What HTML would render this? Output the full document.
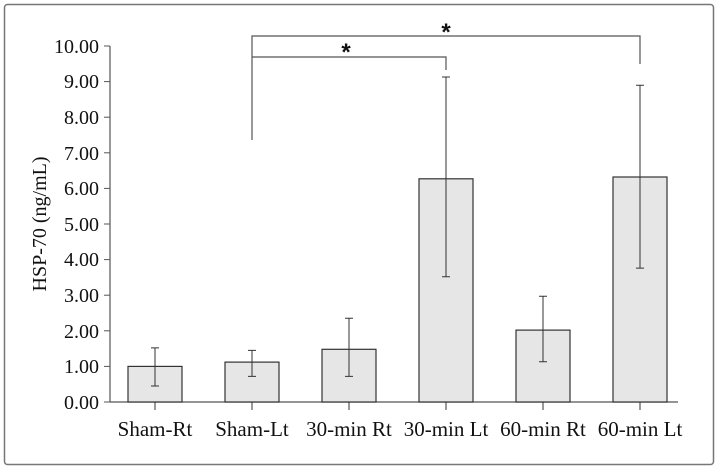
<!DOCTYPE html>
<html><head><style>body{margin:0;background:#fff}</style></head><body>
<svg width="718" height="469" xmlns="http://www.w3.org/2000/svg" font-family="Liberation Serif, serif">
<rect x="4.5" y="4.5" width="709" height="460" rx="3" fill="#fff" stroke="#777" stroke-width="1.5"/>
<g stroke="#555" stroke-width="1.2" fill="none">
<line x1="110" y1="46" x2="110" y2="402"/>
<line x1="110" y1="402" x2="678" y2="402"/>
</g>
<g font-size="20" fill="#111" text-anchor="end">
<text x="99" y="53">10.00</text><text x="99" y="88">9.00</text><text x="99" y="124">8.00</text>
<text x="99" y="160">7.00</text><text x="99" y="195">6.00</text><text x="99" y="231">5.00</text>
<text x="99" y="266">4.00</text><text x="99" y="302">3.00</text><text x="99" y="338">2.00</text>
<text x="99" y="373">1.00</text><text x="99" y="409">0.00</text>
</g>
<g stroke="#555" stroke-width="1">
<line x1="104" y1="46" x2="110" y2="46"/><line x1="104" y1="81.6" x2="110" y2="81.6"/><line x1="104" y1="117.2" x2="110" y2="117.2"/>
<line x1="104" y1="152.8" x2="110" y2="152.8"/><line x1="104" y1="188.4" x2="110" y2="188.4"/><line x1="104" y1="224" x2="110" y2="224"/>
<line x1="104" y1="259.6" x2="110" y2="259.6"/><line x1="104" y1="295.2" x2="110" y2="295.2"/><line x1="104" y1="330.8" x2="110" y2="330.8"/>
<line x1="104" y1="366.4" x2="110" y2="366.4"/><line x1="104" y1="402" x2="110" y2="402"/>
</g>
<text transform="translate(46,224) rotate(-90)" font-size="20" text-anchor="middle" fill="#111">HSP-70 (ng/mL)</text>
<g fill="#e6e6e6" stroke="#333" stroke-width="1.2">
<rect x="128" y="366.4" width="54" height="35.6"/>
<rect x="225" y="362.1" width="54" height="39.9"/>
<rect x="322" y="349.3" width="54" height="52.7"/>
<rect x="419" y="178.8" width="54" height="223.2"/>
<rect x="516" y="330.1" width="54" height="71.9"/>
<rect x="613" y="177" width="54" height="225"/>
</g>
<g stroke="#333" stroke-width="1">
<path d="M155 386V347.9M151 386h8M151 347.9h8"/>
<path d="M252 376.4V350.4M248 376.4h8M248 350.4h8"/>
<path d="M349 376.4V318.3M345 376.4h8M345 318.3h8"/>
<path d="M446 276.7V77M442 276.7h8M442 77h8"/>
<path d="M543 361.8V296.3M539 361.8h8M539 296.3h8"/>
<path d="M640 268.1V85.2M636 268.1h8M636 85.2h8"/>
<path d="M155 402v8M252 402v8M349 402v8M446 402v8M543 402v8M640 402v8"/>
</g>
<g stroke="#555" stroke-width="1.2" fill="none">
<path d="M252 140V36H640V64"/>
<path d="M252 57H446V70"/>
</g>
<g font-size="24" font-weight="bold" font-family="Liberation Sans, sans-serif" text-anchor="middle" fill="#111">
<text x="346" y="60">*</text><text x="446" y="40">*</text>
</g>
<g font-size="21" text-anchor="middle" fill="#111">
<text x="155" y="436">Sham-Rt</text><text x="252" y="436">Sham-Lt</text><text x="349" y="436">30-min Rt</text>
<text x="446" y="436">30-min Lt</text><text x="543" y="436">60-min Rt</text><text x="640" y="436">60-min Lt</text>
</g>
</svg>
</body></html>
